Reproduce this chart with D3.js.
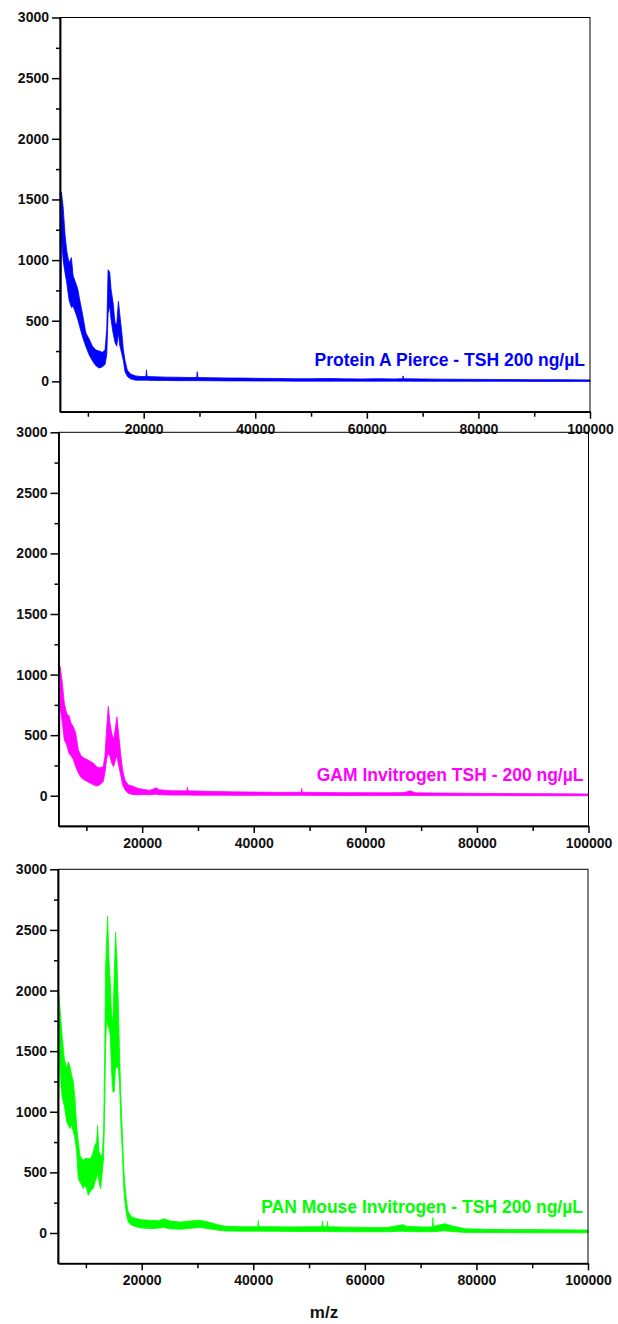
<!DOCTYPE html>
<html>
<head>
<meta charset="utf-8">
<script src="https://cdn.jsdelivr.net/npm/d3@7"></script>
<style>
  body { margin: 0; background: #fff; }
  svg { display: block; }
  text { font-family: "Liberation Sans", Arial, sans-serif; font-weight: bold; }
</style>
</head>
<body>
<div id="chart"></div>
<script>
// Spectra: m/z, upper and lower edge of the noisy trace
const pierceMz = [5000, 5100, 5250, 5560, 5920, 6220, 6630, 7050, 7350, 7830, 8190, 8540, 9020, 9620, 10215, 10810, 11400, 12000, 12600, 13080, 13380, 13620, 13910, 14150, 14510, 14870, 15170, 15470, 15700, 16060, 16360, 16660, 17080, 17670, 18570, 19500, 20400, 20500, 20600, 22000, 24000, 26000, 28000, 29500, 29600, 29700, 32000, 35000, 38000, 41000, 44000, 47000, 50000, 53000, 56000, 59000, 62000, 65000, 66400, 66500, 66600, 70000, 74000, 78000, 82000, 86000, 90000, 95000, 100000];
const pierceHi = [0, 900, 1560, 1440, 1200, 1070, 975, 1020, 870, 810, 760, 670, 560, 400, 350, 290, 260, 250, 240, 260, 430, 920, 900, 760, 650, 480, 470, 660, 560, 410, 260, 170, 90, 60, 45, 40, 40, 95, 40, 38, 35, 34, 32, 32, 80, 32, 30, 28, 27, 25, 24, 22, 22, 24, 21, 20, 22, 20, 22, 45, 22, 20, 18, 17, 16, 15, 14, 14, 12];
const pierceLo = [0, 0, 1200, 1000, 890, 810, 670, 610, 620, 560, 510, 450, 370, 290, 220, 170, 130, 110, 120, 140, 220, 560, 620, 510, 400, 320, 290, 400, 300, 230, 170, 80, 40, 20, 10, 10, 10, 10, 10, 8, 8, 6, 6, 6, 6, 6, 5, 4, 4, 3, 3, 2, 2, 2, 2, 2, 2, 2, 2, 2, 2, 1, 1, 1, 1, 1, 0, 0, 0];

const gamMz = [5000, 5150, 5270, 5450, 5690, 6040, 6460, 6880, 7240, 7650, 8070, 8550, 9030, 9620, 10040, 10640, 11240, 11830, 12430, 13020, 13320, 13620, 13920, 14220, 14520, 14880, 15230, 15470, 15830, 16190, 16490, 16900, 17500, 18400, 19300, 20500, 21400, 22000, 22500, 23000, 25000, 27000, 28000, 28100, 28200, 30000, 33000, 36000, 40000, 44000, 48500, 48600, 48700, 52000, 56000, 60000, 64000, 67000, 68000, 69000, 73000, 78000, 84000, 90000, 95000, 100000];
const gamHi = [0, 700, 1067, 1010, 930, 765, 680, 660, 600, 570, 520, 380, 330, 310, 300, 285, 270, 240, 230, 240, 325, 545, 737, 600, 520, 460, 570, 650, 490, 325, 215, 130, 90, 77, 60, 50, 45, 55, 66, 50, 42, 40, 40, 69, 40, 38, 35, 32, 30, 28, 28, 60, 28, 27, 25, 25, 24, 26, 40, 24, 22, 20, 18, 17, 16, 14];
const gamLo = [0, 0, 700, 680, 600, 460, 420, 350, 330, 300, 240, 190, 150, 130, 120, 105, 90, 80, 90, 118, 187, 300, 350, 325, 270, 240, 300, 325, 240, 160, 90, 50, 20, 8, 8, 8, 8, 10, 12, 8, 6, 5, 5, 5, 5, 4, 4, 3, 3, 3, 3, 3, 3, 2, 2, 2, 2, 2, 2, 2, 1, 1, 1, 0, 0, 0];

const panMz = [5000, 5030, 5100, 5300, 5540, 5780, 6130, 6550, 6850, 7150, 7450, 7745, 8040, 8340, 8640, 8940, 9240, 9535, 9830, 10130, 10430, 10910, 11320, 11620, 11920, 12100, 12340, 12640, 12935, 13170, 13350, 13530, 13710, 13890, 14130, 14370, 14610, 14845, 15080, 15320, 15560, 15800, 16040, 16280, 16520, 16750, 16990, 17290, 17590, 18190, 19080, 19980, 21470, 23000, 24000, 25000, 27000, 29000, 30500, 32000, 33500, 35000, 38000, 40800, 40900, 41000, 44000, 47000, 50000, 52300, 52400, 52500, 53200, 53300, 53400, 57000, 61000, 64000, 66800, 67500, 70000, 72100, 72200, 72300, 74300, 75500, 78000, 82000, 86000, 90000, 95000, 100000];
const panHi = [0, 1200, 1990, 1880, 1742, 1605, 1440, 1357, 1412, 1371, 1302, 1247, 1110, 889, 750, 640, 614, 600, 614, 614, 614, 614, 669, 724, 751, 889, 669, 641, 641, 834, 1385, 2182, 2400, 2614, 2265, 2072, 1797, 1742, 2127, 2480, 2265, 1910, 1467, 1109, 834, 559, 394, 256, 174, 132, 119, 110, 105, 100, 118, 100, 90, 100, 105, 90, 70, 55, 52, 52, 103, 52, 52, 50, 52, 52, 100, 52, 52, 95, 52, 48, 46, 46, 69, 55, 50, 50, 127, 55, 77, 60, 35, 30, 28, 28, 26, 24];
const panLo = [0, 0, 1100, 1440, 1220, 1110, 1050, 920, 890, 860, 890, 834, 780, 670, 450, 420, 395, 366, 395, 366, 311, 352, 366, 421, 449, 504, 421, 366, 504, 614, 972, 1550, 1770, 1715, 1687, 1632, 1329, 1164, 1164, 1384, 1357, 1384, 1219, 889, 669, 394, 256, 146, 91, 64, 50, 42, 36, 40, 45, 35, 30, 40, 45, 35, 25, 17, 15, 15, 15, 15, 14, 12, 12, 12, 12, 12, 12, 12, 12, 10, 10, 10, 15, 12, 10, 10, 10, 10, 18, 12, 5, 4, 3, 2, 2, 2];

const panelLabels = ['Protein A Pierce - TSH 200 ng/\u00b5L', 'GAM Invitrogen TSH - 200 ng/\u00b5L', 'PAN Mouse Invitrogen - TSH 200 ng/\u00b5L'];
const yTicks = [0, 500, 1000, 1500, 2000, 2500, 3000];
const yMinorTicks = [250, 750, 1250, 1750, 2250, 2750];
const xTicks = [20000, 40000, 60000, 80000, 100000];
const xMinorTicks = [10000, 30000, 50000, 70000, 90000];
const xDomain = [5000, 100000];
const yDomain = [-250, 3000];

const W = 618, H = 1324;
const svg = d3.select('#chart').append('svg').attr('width', W).attr('height', H);
svg.append('rect').attr('width', W).attr('height', H).attr('fill', '#fff');

const panels = [
    { mz: pierceMz, hi: pierceHi, lo: pierceLo, color: '#0000ff', label: panelLabels[0], left: 60, right: 590, top: 17.5, bottom: 411.7, labelLift: 15 },
    { mz: gamMz, hi: gamHi, lo: gamLo, color: '#ff00ff', label: panelLabels[1], left: 58.5, right: 588.5, top: 432.3, bottom: 826, labelLift: 15 },
    { mz: panMz, hi: panHi, lo: panLo, color: '#00ff00', label: panelLabels[2], left: 58, right: 588, top: 869.3, bottom: 1263.3, labelLift: 20 }
];

function styleAxis(g) {
    g.attr('font-family', null).attr('font-size', null);
    g.selectAll('path, line').attr('stroke', '#000').attr('stroke-width', 1.5);
    g.selectAll('text').attr('fill', '#111').style('font-size', '14px');
}

panels.forEach(p => {
    const x = d3.scaleLinear().domain(xDomain).range([p.left, p.right]);
    const y = d3.scaleLinear().domain(yDomain).range([p.bottom, p.top]);
    const g = svg.append('g');

    // the spectrum as a filled noise band
    const rows = p.mz.map((m, i) => ({ mz: m, hi: p.hi[i], lo: p.lo[i] }));
    const area = d3.area()
        .x(d => x(d.mz))
        .y0(d => y(d.lo))
        .y1(d => y(d.hi));
    g.append('path')
        .datum(rows)
        .attr('d', area)
        .attr('fill', p.color)
        .attr('stroke', p.color)
        .attr('stroke-width', 0.8)
        .attr('stroke-linejoin', 'round');

    // box
    g.append('rect')
        .attr('x', p.left).attr('y', p.top)
        .attr('width', p.right - p.left).attr('height', p.bottom - p.top)
        .attr('fill', 'none').attr('stroke', '#000').attr('stroke-width', 1);

    // y axis, major + minor ticks
    g.append('g')
        .attr('transform', `translate(${p.left},0)`)
        .call(d3.axisLeft(y).tickValues(yMinorTicks).tickSize(4).tickSizeOuter(0).tickFormat(''))
        .call(styleAxis);
    g.append('g')
        .attr('transform', `translate(${p.left},0)`)
        .call(d3.axisLeft(y).tickValues(yTicks).tickSize(8).tickPadding(3).tickSizeOuter(0).tickFormat(d3.format('d')))
        .call(styleAxis);

    // x axis
    g.append('g')
        .attr('transform', `translate(0,${p.bottom})`)
        .call(d3.axisBottom(x).tickValues(xMinorTicks).tickSize(5).tickSizeOuter(0).tickFormat(''))
        .call(styleAxis);
    g.append('g')
        .attr('transform', `translate(0,${p.bottom})`)
        .call(d3.axisBottom(x).tickValues(xTicks).tickSize(7).tickPadding(5).tickSizeOuter(0).tickFormat(d3.format('d')))
        .call(styleAxis);

    // sample label
    g.append('text')
        .attr('x', p.right - 5)
        .attr('y', y(0) - p.labelLift)
        .attr('text-anchor', 'end')
        .attr('fill', p.color)
        .style('font-size', '17.5px')
        .text(p.label);
});

svg.append('text')
    .attr('x', 324)
    .attr('y', 1318)
    .attr('text-anchor', 'middle')
    .attr('fill', '#111')
    .style('font-size', '17px')
    .text('m/z');
</script>
</body>
</html>
